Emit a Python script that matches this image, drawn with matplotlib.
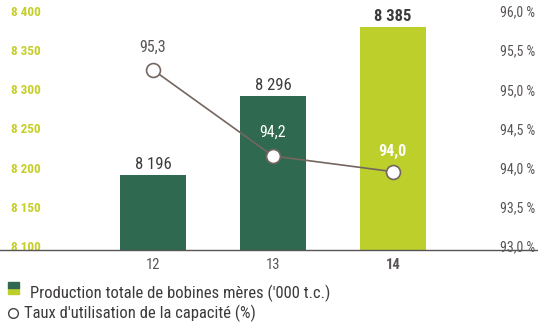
import matplotlib.pyplot as plt
from matplotlib.patches import Rectangle
from matplotlib.lines import Line2D
from matplotlib import font_manager
import matplotlib.transforms as mtransforms

# use a narrow face when one is installed
names = {f.name for f in font_manager.fontManager.ttflist}
narrow = [n for n in ["Liberation Sans Narrow", "Roboto Condensed", "Open Sans Condensed",
                      "DejaVu Sans Condensed"] if n in names]
plt.rcParams['font.family'] = narrow + ['DejaVu Sans']
plt.rcParams['font.stretch'] = 'condensed'

years = ["12", "13", "14"]
production = [8196, 8296, 8385]
production_labels = ["8 196", "8 296", "8 385"]
utilisation = [95.3, 94.2, 94.0]
utilisation_labels = ["95,3", "94,2", "94,0"]
left_ticks = [8100, 8150, 8200, 8250, 8300, 8350, 8400]
left_ticklabels = ["8 100", "8 150", "8 200", "8 250", "8 300", "8 350", "8 400"]
right_ticks = [93.0, 93.5, 94.0, 94.5, 95.0, 95.5, 96.0]
right_ticklabels = ["93,0 %", "93,5 %", "94,0 %", "94,5 %", "95,0 %", "95,5 %", "96,0 %"]

dark_green = "#2f6a50"
lime = "#bccf2b"
grey_text = "#5a5555"
line_col = "#74665f"

fig = plt.figure(figsize=(5.38, 3.26), dpi=100)
ax = fig.add_axes([0, 1 - 250 / 326, 1, 235 / 326])
x = list(range(len(years)))
colors = [dark_green, dark_green, lime]
ax.bar(x, production, width=0.55, color=colors, zorder=2)
ax.set_xlim(-1.275, 3.21)
ax.set_ylim(8100, 8400)

for i, (v, lab) in enumerate(zip(production, production_labels)):
    ax.text(i, v + 4, lab, ha="center", va="bottom", fontsize=12,
            color="#3c3a3a", fontweight="bold" if i == 2 else "normal")

for s in ["top", "left", "right"]:
    ax.spines[s].set_visible(False)
ax.spines["bottom"].set_color("#555555")
ax.spines["bottom"].set_linewidth(1.0)

ax.set_xticks(x)
ax.set_xticklabels(years, fontsize=10.5, color=grey_text)
ax.get_xticklabels()[2].set_fontweight("bold")
ax.tick_params(axis="x", length=0, pad=6)

up = mtransforms.ScaledTranslation(0, 4 / 100, fig.dpi_scale_trans)

ax.set_yticks(left_ticks)
ax.set_yticklabels(left_ticklabels, fontsize=9.5, color="#c6cf2a",
                   fontweight="bold", ha="left")
ax.tick_params(axis="y", length=0, pad=-8)
for t in ax.get_yticklabels():
    t.set_transform(t.get_transform() + up)

ax2 = ax.twinx()
ax2.set_ylim(93, 96)
ax2.plot(x, utilisation, color=line_col, linewidth=1.2, marker="o",
         markersize=10, markerfacecolor="white", markeredgecolor=line_col,
         markeredgewidth=1.2, zorder=3)
for s in ax2.spines.values():
    s.set_visible(False)
ax2.set_yticks(right_ticks)
ax2.set_yticklabels(right_ticklabels, fontsize=10, color=grey_text, ha="right")
ax2.tick_params(axis="y", length=0, pad=-2)
for t in ax2.get_yticklabels():
    t.set_transform(t.get_transform() + up)

offsets = [0.29, 0.3, 0.26]
label_cols = [grey_text, "white", "white"]
for i, (v, lab) in enumerate(zip(utilisation, utilisation_labels)):
    ax2.text(i, v + offsets[i], lab, ha="center", va="center", fontsize=11.5,
             color=label_cols[i], fontweight="bold" if i == 2 else "normal")

# legend below the axis
fig.patches.append(Rectangle((8 / 538, 1 - 294 / 326), 11 / 538, 6 / 326,
                             color=lime, transform=fig.transFigure))
fig.patches.append(Rectangle((8 / 538, 1 - 288 / 326), 11 / 538, 6 / 326,
                             color=dark_green, transform=fig.transFigure))
fig.text(30 / 538, 1 - 293 / 326, "Production totale de bobines mères ('000 t.c.)",
         fontsize=12, color="#3d3a3a", va="center")
fig.lines.append(Line2D([13 / 538], [1 - 313 / 326], marker="o", markersize=7,
                        markerfacecolor="white", markeredgecolor="#444444",
                        markeredgewidth=1, transform=fig.transFigure))
fig.text(24 / 538, 1 - 313 / 326, "Taux d'utilisation de la capacité (%)",
         fontsize=12, color="#3d3a3a", va="center")

fig.savefig("out.png", dpi=100)
